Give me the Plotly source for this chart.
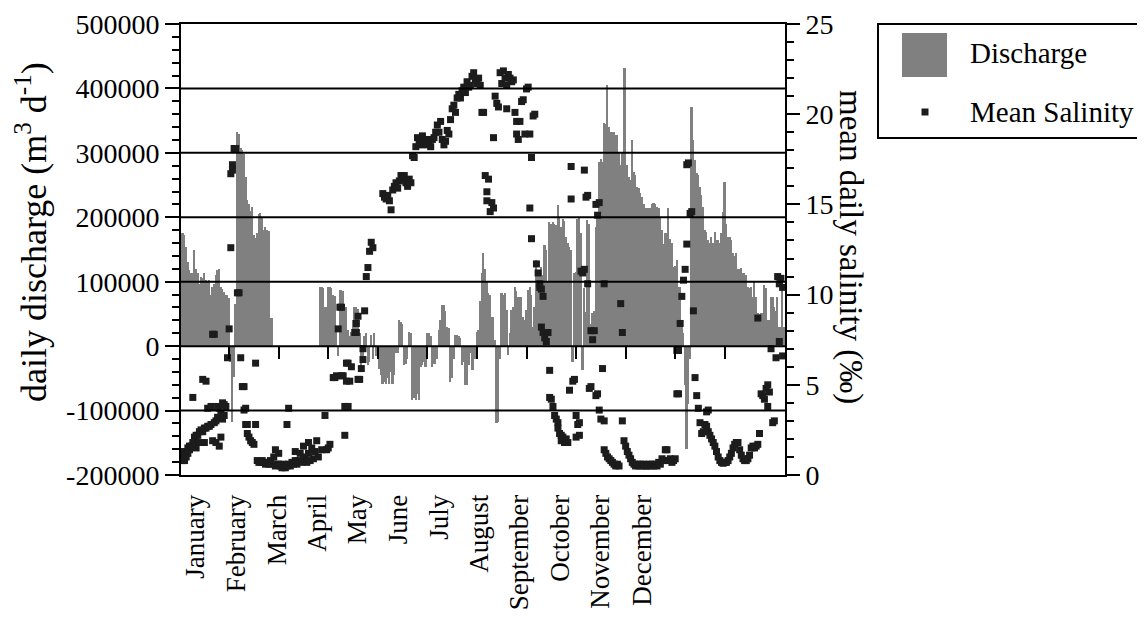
import plotly.graph_objects as go

# ---------------- data ----------------
# daily discharge, thousand m3 per day (None = no data)
discharge_k = [
    175, 175, 172, 154, 130, 118, 113, 113, 149, 120,
    113, 97, 108, 105, 113, 102, 100, 102, 79, 92,
    97, 110, 118, 120, 92, 88, 84, 80, 79, 74,
    -25, -117, -48, 66, 333, 330, 307, 305, 298, 262,
    227, 221, 210, 216, 172, 168, 175, 205, 206, 200,
    180, 185, 180, 178, 43, 43, None, None, None, None,
    None, None, None, None, None, None, None, None, None, None,
    None, None, None, None, None, None, None, None, None, None,
    None, None, None, None, 92, 92, 90, 61, 60, 92,
    92, 90, 80, 78, 25, -16, 87, 87, 85, 61,
    60, 25, 15, 22, 40, 61, 60, 58, 20, -37,
    -20, 15, 20, -30, -25, 18, -20, 20, -15, -20,
    -35, -45, -58, -55, -58, -50, -58, -40, -58, -45,
    -11, -10, 40, 38, 35, -30, -28, -20, 22, 20,
    -84, -80, -84, -75, -84, -32, -30, -25, -32, 20,
    20, 15, -32, -27, -27, -20, 25, 40, 64, 64,
    55, 30, 28, -55, -50, -20, 17, 17, 15, 12,
    -30, -25, -60, -60, -30, -10, -37, -37, -20, 22,
    25, 70, 113, 144, 120, 100, 82, 80, 45, 45,
    10, -120, -118, -20, 82, 80, 82, 56, -14, 20,
    56, 60, 92, 85, 77, 76, 77, 45, 40, 56,
    87, 92, 80, 30, 60, 133, 113, 118, 123, 110,
    157, 150, 100, 193, 190, 193, 190, 188, 219, 200,
    185, 198, 195, 170, 160, 154, 150, -24, 113, 115,
    198, 200, 175, -37, 90, 53, 196, 190, 35, 51,
    55, 185, 206, 286, 290, 286, 346, 345, 405, 340,
    333, 332, 333, 327, 327, 301, 281, 300, 431, 431,
    281, 263, 258, 320, 271, 265, 247, 245, 237, 232,
    221, 214, 214, 214, 214, 221, 222, 221, 216, 214,
    199, 180, 159, 175, 175, 214, 167, 160, 123, 125,
    133, 92, 92, 40, 20, -60, -159, -90, -20, 371,
    320, 289, 268, 265, 247, 234, 216, 180, 177, 164,
    160, 170, 160, 177, 165, 165, 160, 175, 208, 255,
    190, 170, 170, 165, 144, 140, 144, 120, 120, 122,
    113, 113, 110, 92, 90, 92, 77, 100, 77, 51,
    50, 51, 51, 95, 90, 40, 40, 77, 77, 61,
    55, 77, 30, 30, 100, 30,
]
days = list(range(1, len(discharge_k) + 1))

# mean daily salinity (per mil): day of year and value
sal_day = [
    1, 1, 2, 2, 3, 3, 4, 4, 5, 5, 6, 6, 7, 8, 8, 9, 9, 10, 10, 11,
    12, 12, 13, 14, 14, 15, 15, 16, 16, 17, 17, 18, 19, 19, 20, 20, 21, 21, 22, 22,
    23, 23, 24, 24, 25, 25, 26, 26, 27, 27, 28, 29, 30, 31, 31, 32, 32, 33, 34, 35,
    36, 37, 38, 39, 39, 40, 40, 41, 41, 42, 43, 44, 45, 46, 46, 47, 48, 49, 50, 51,
    52, 53, 54, 55, 56, 57, 58, 58, 59, 60, 60, 61, 62, 63, 64, 65, 65, 66, 66, 67,
    68, 69, 70, 70, 71, 72, 73, 74, 75, 75, 76, 77, 78, 78, 79, 80, 81, 82, 83, 84,
    86, 88, 89, 90, 91, 93, 94, 95, 96, 97, 98, 98, 99, 100, 100, 101, 101, 102, 102, 103,
    104, 106, 107, 107, 108, 108, 109, 110, 111, 111, 112, 113, 114, 115, 116, 117,
    123, 124, 125, 126, 127, 128, 129, 130, 131, 132, 133, 134, 135, 136, 137, 138, 139, 140,
    141, 142, 143, 144,
    145, 146, 147, 148, 149, 150, 151, 152, 153, 154, 155, 156, 157, 158, 159, 160,
    161, 162, 163, 164, 165, 166, 167, 168, 169, 170, 171, 172, 173, 174, 175, 176,
    177, 178, 179, 180, 181, 182, 183, 184, 185, 186, 186, 187, 188, 189, 190, 190,
    191, 192, 193, 194, 195, 196, 197, 198, 198, 199, 200, 201, 202, 203, 204, 204,
    205, 206, 207, 208, 209, 210, 211, 212, 212, 213, 213, 214, 215, 216, 217, 218,
    218, 219, 219, 220, 220, 221, 222, 223, 224, 224, 225, 226, 227, 228, 229, 229,
    230, 231, 231, 232, 233, 234, 235, 236, 237, 237, 238, 239, 240, 240, 241, 242,
    242, 243, 244, 245, 245, 246, 247, 247, 248, 249, 249, 250, 251, 252, 252, 253,
    253, 254, 254, 255, 256, 257, 257, 257, 258, 259, 260, 261, 262, 263, 264, 265,
    266, 267, 268, 268, 269, 270, 271, 272, 273, 274, 275, 276, 277, 278, 279, 280,
    281, 282, 283, 284, 285, 286, 287, 288, 289, 290, 291, 292, 293, 294, 295, 296,
    297, 298, 299, 300, 301, 301, 302, 302, 303, 304, 305, 306, 307, 307, 308, 309,
    310, 311, 312, 313, 314, 315, 316, 317, 318, 319, 319, 320, 320, 321, 322, 323,
    324, 325, 326, 327, 328, 329, 330, 331, 332, 333, 334, 335, 336, 337, 338, 339,
    340, 341, 342, 343, 344, 345, 346, 347, 348, 349, 350, 350, 351, 352, 353, 354,
    355, 356, 356, 357, 358, 359, 360, 361, 362, 363, 363, 364, 365, 365,
]
sal_val = [
    1.2, 0.9, 0.8, 1.3, 1.0, 0.8, 1.3, 1.0, 1.5, 1.2, 1.4, 1.6, 1.6, 1.8, 4.3, 1.7, 2.1, 2.2, 1.5, 2.2,
    2.4, 1.8, 2.5, 2.4, 5.3, 2.6, 1.8, 2.6, 5.2, 3.7, 2.7, 2.7, 2.8, 3.8, 7.8, 1.9, 2.9, 7.8, 3.0, 1.8,
    3.2, 3.8, 1.6, 3.7, 2.1, 3.4, 3.1, 4.0, 3.3, 3.9, 3.8, 6.5, 8.1, 12.6, 16.7, 17.2, 16.9, 18.1, 18.1, 10.1,
    10.1, 6.5, 4.9, 4.9, 3.6, 3.7, 2.8, 2.8, 2.3, 2.1, 1.9, 1.8, 1.7, 6.2, 2.8, 0.8, 0.7, 0.7, 0.8, 0.7,
    0.6, 0.7, 0.6, 0.8, 0.6, 1.0, 1.4, 0.5, 0.6, 1.2, 0.6, 0.5, 0.4, 0.6, 0.4, 0.5, 2.8, 3.7, 0.6, 0.5,
    0.7, 0.6, 0.8, 1.3, 0.6, 0.8, 1.2, 0.7, 1.6, 0.9, 1.0, 0.7, 1.8, 1.2, 0.8, 1.5, 0.9, 1.3, 1.9, 1.0,
    1.4, 3.3, 1.4, 1.5, 1.7, 5.4, 5.4, 5.5, 8.1, 9.3, 9.3, 5.5, 5.5, 2.2, 3.8, 5.2, 6.2, 6.2, 3.8, 5.2,
    6.0, 7.9, 8.4, 7.9, 8.8, 5.3, 5.3, 5.9, 6.4, 7.0, 9.1, 11.0, 11.5, 12.4, 12.9, 12.6,
    15.6, 15.4, 15.3, 15.5, 15.2, 14.7, 15.8, 16.0, 16.2, 15.9, 16.3, 16.6, 16.4, 16.6, 16.2, 16.0, 16.4, 16.2,
    17.7, 17.6, 18.2, 18.7,
    18.5, 18.3, 18.8, 18.4, 18.6, 18.3, 18.5, 18.2, 18.6, 18.7, 19.0, 19.4, 19.0, 19.6, 18.6, 18.3,
    18.5, 19.1, 18.9, 19.7, 20.3, 20.5, 20.1, 20.9, 21.1, 20.9, 21.3, 21.5, 21.2, 21.8, 21.5, 21.6,
    22.1, 22.3, 21.9, 21.7, 22.0, 21.6, 20.1, 20.1, 16.6, 15.7, 15.2, 16.4, 14.6, 15.1, 18.7, 14.8,
    21.0, 20.6, 20.4, 22.3, 21.7, 22.4, 22.0, 20.3, 21.6, 22.2, 22.0, 21.8, 21.9, 20.1, 19.6, 18.9,
    18.6, 19.6, 20.7, 20.8, 18.9, 21.4, 21.5, 14.8, 18.9, 17.6, 13.1, 19.9, 20.0, 11.7, 11.2, 10.6,
    10.4, 10.3, 8.2, 9.9, 7.9, 7.6, 7.4, 7.9, 5.8, 4.3, 4.2, 3.8, 3.3, 3.1, 2.9, 2.6,
    2.3, 1.9, 2.2, 2.1, 1.8, 2.0, 1.8, 4.7, 17.1, 15.3, 5.2, 5.3, 3.3, 2.1, 2.8, 2.2,
    2.9, 11.3, 11.2, 16.9, 11.4, 15.4, 15.5, 10.6, 4.8, 8.0, 4.9, 7.5, 8.0, 15.0, 4.4, 14.4,
    4.5, 15.1, 3.6, 3.1, 5.9, 3.0, 10.6, 1.4, 1.2, 1.0, 0.9, 0.8, 0.7, 0.6, 0.5, 0.6,
    0.5, 9.5, 7.9, 3.0, 1.9, 1.6, 1.3, 1.1, 0.9, 0.7, 0.6, 0.5, 0.6, 0.5, 0.6, 0.5,
    0.6, 0.5, 0.5, 0.6, 0.5, 0.6, 0.5, 0.6, 0.5, 0.7, 0.6, 0.9, 0.8, 1.4, 1.4, 0.8,
    0.9, 0.7, 0.8, 0.9, 4.5, 6.9, 6.9, 4.5, 8.4, 9.9, 10.8, 11.4, 12.8, 17.2, 17.3, 14.5,
    14.6, 9.1, 5.4, 4.4, 3.7, 2.9, 2.3, 2.4, 2.8, 3.5, 2.7, 3.6, 2.4, 2.2, 2.0, 1.8,
    1.6, 1.3, 1.0, 0.8, 0.7, 0.65, 0.7, 0.7, 0.8, 1.0, 1.2, 1.5, 1.7, 1.8, 1.8, 1.4,
    1.1, 0.9, 0.8, 0.8, 0.9, 1.1, 1.5, 1.6, 1.5, 1.6, 1.7, 8.7, 2.3, 4.5, 4.4, 4.2,
    4.8, 5.0, 3.8, 4.6, 7.0, 2.9, 3.0, 6.5, 11.0, 10.6, 7.4, 10.9, 10.4, 6.6,
]
n_sal = min(len(sal_day), len(sal_val))
sal_day, sal_val = sal_day[:n_sal], sal_val[:n_sal]

months = ["January", "February", "March", "April", "May", "June", "July",
          "August", "September", "October", "November", "December"]
month_label_pos = [9.7, 34.3, 59.1, 83.3, 107.5, 132.4, 156.9, 181.1, 205.4, 230.6, 254.8, 280.1]
month_tick_days = [30, 60, 90, 120, 150, 180, 210, 240, 270, 300, 330]

left_tick_vals = [-200, -100, 0, 100, 200, 300, 400, 500]
left_tick_text = ["-200000", "-100000", "0", "100000", "200000", "300000", "400000", "500000"]
grid_vals = [-100, 0, 100, 200, 300, 400]
right_tick_vals = [0, 5, 10, 15, 20, 25]

# ---------------- layout geometry ----------------
# the page body adds an 8 px margin, so the figure is 8 px smaller
OFF = 8
W, H = 1145 - OFF, 620 - OFF
ML, MT = 173, 16                  # plot area left / top inside the figure
PW, PH = 604, 451                 # plot area size
MR = W - ML - PW
MB = H - MT - PH
FONT = "Liberation Serif"
BAR_GRAY = "#808080"
DOT = "#1c1c1c"


def fx(p):
    """reference-screenshot x pixel -> paper x"""
    return (p - OFF - ML) / PW


def fy(p):
    """reference-screenshot y pixel -> paper y"""
    return (MT + PH - (p - OFF)) / PH


x_range = [0.85, 366.45]

fig = go.Figure()
fig.add_trace(go.Bar(
    x=days, y=discharge_k, width=1.0,
    marker=dict(color=BAR_GRAY, line=dict(width=0)),
    name="Discharge", showlegend=False, xaxis="x", yaxis="y",
))
fig.add_trace(go.Scatter(
    x=sal_day, y=sal_val, mode="markers",
    marker=dict(symbol="square", size=7, color=DOT, line=dict(width=0)),
    name="Mean Salinity", showlegend=False, xaxis="x", yaxis="y2",
))
# empty trace so the month-boundary tick axis (on the zero line) gets a subplot
fig.add_trace(go.Scatter(x=[None], y=[None], mode="markers", xaxis="x2", yaxis="y",
                         showlegend=False, hoverinfo="skip"))

shapes = []
for v in grid_vals:
    shapes.append(dict(type="line", xref="paper", yref="y", x0=0, x1=1, y0=v, y1=v,
                       line=dict(color="black", width=2), layer="above"))

# legend (drawn by hand to match the box style)
shapes.append(dict(type="rect", xref="paper", yref="paper",
                   x0=fx(878), x1=fx(1144), y0=fy(138), y1=fy(24),
                   line=dict(color="black", width=2), fillcolor="white", layer="above"))
shapes.append(dict(type="rect", xref="paper", yref="paper",
                   x0=fx(902), x1=fx(947), y0=fy(77), y1=fy(33),
                   line=dict(width=0), fillcolor=BAR_GRAY, layer="above"))
shapes.append(dict(type="rect", xref="paper", yref="paper",
                   x0=fx(921.5), x1=fx(928.5), y0=fy(115.5), y1=fy(108.5),
                   line=dict(width=0), fillcolor=DOT, layer="above"))

annotations = [
    dict(text="Discharge", xref="paper", yref="paper", x=fx(968), y=fy(53),
         xanchor="left", yanchor="middle", showarrow=False,
         font=dict(family=FONT, size=29, color="black")),
    dict(text="Mean Salinity", xref="paper", yref="paper", x=fx(968), y=fy(112),
         xanchor="left", yanchor="middle", showarrow=False,
         font=dict(family=FONT, size=29, color="black")),
    dict(text="daily discharge (m<sup>3</sup> d<sup>-1</sup>)", xref="paper", yref="paper",
         x=fx(31), y=fy(232), xanchor="center", yanchor="middle", textangle=-90,
         showarrow=False, font=dict(family=FONT, size=36, color="black")),
    dict(text="mean daily salinity (‰)", xref="paper", yref="paper",
         x=fx(851), y=fy(247), xanchor="center", yanchor="middle", textangle=90,
         showarrow=False, font=dict(family=FONT, size=33, color="black")),
]

fig.update_layout(
    width=W, height=H,
    margin=dict(l=ML, r=MR, t=MT, b=MB, autoexpand=False),
    paper_bgcolor="white", plot_bgcolor="white",
    font=dict(family=FONT, color="black"),
    bargap=0, showlegend=False,
    shapes=shapes, annotations=annotations,
    xaxis=dict(
        range=x_range, showgrid=False, zeroline=False,
        showline=True, linecolor="black", linewidth=2, mirror=True,
        tickmode="array", tickvals=month_label_pos, ticktext=months,
        tickangle=-90, ticks="outside", ticklen=7, tickcolor="rgba(0,0,0,0)",
        tickfont=dict(family=FONT, size=27, color="black"),
    ),
    xaxis2=dict(
        range=x_range, overlaying="x", anchor="free", position=fy(346),
        showgrid=False, zeroline=False, showline=False, showticklabels=False,
        tickmode="array", tickvals=month_tick_days,
        ticks="outside", ticklen=12, tickwidth=2, tickcolor="black",
    ),
    yaxis=dict(
        range=[-200, 500], showgrid=False, zeroline=False,
        showline=True, linecolor="black", linewidth=2,
        tickmode="array", tickvals=left_tick_vals, ticktext=left_tick_text,
        ticks="outside", ticklen=14, tickwidth=2, tickcolor="black",
        ticklabelstandoff=0,
        tickfont=dict(family=FONT, size=28, color="black"),
        minor=dict(tickmode="linear", tick0=-200, dtick=20, ticks="outside",
                   ticklen=7, tickwidth=1.5, tickcolor="black", showgrid=False),
    ),
    yaxis2=dict(
        range=[0, 25], overlaying="y", side="right", anchor="x",
        showgrid=False, zeroline=False,
        showline=True, linecolor="black", linewidth=2,
        tickmode="array", tickvals=right_tick_vals,
        ticks="outside", ticklen=13, tickwidth=2, tickcolor="black",
        tickfont=dict(family=FONT, size=28, color="black"),
        minor=dict(tickmode="linear", tick0=0, dtick=1, ticks="outside",
                   ticklen=7, tickwidth=1.5, tickcolor="black", showgrid=False),
    ),
)

fig.write_html("out.html")
